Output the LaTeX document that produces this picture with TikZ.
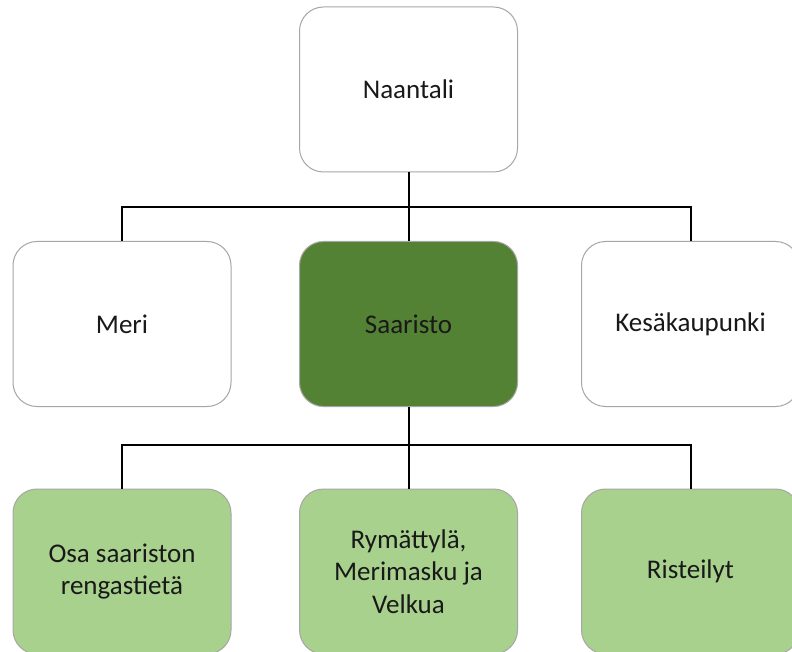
\documentclass[tikz,border=0pt]{standalone}
\usepackage{fontspec}
\setmainfont{Carlito}
\definecolor{boxline}{HTML}{A6A6A6}
\definecolor{darkgreen}{HTML}{548235}
\definecolor{lightgreen}{HTML}{A9D18E}
\begin{document}
\begin{tikzpicture}[x=1pt,y=-1pt,
  orgbox/.style={draw=boxline, line width=1pt, rounded corners=24pt,
    minimum width=218pt, minimum height=165pt, inner sep=0pt,
    align=center, text=black!90,
    font=\fontsize{27}{32.5}\selectfont},
  plainbox/.style={orgbox, fill=white},
  mainbox/.style={orgbox, fill=darkgreen},
  subbox/.style={orgbox, fill=lightgreen},
  link/.style={draw=black, line width=2pt}]
\useasboundingbox (0,0) rectangle (792,652);
\fill[white] (0,0) rectangle (792,652);

% Top level
\node[plainbox] (top) at (408.5,89.5) {Naantali};

% Second level
\node[plainbox] (meri) at (122,324) {Meri};
\node[mainbox]  (saar) at (408.5,324) {Saaristo};
\node[plainbox] (kesa) at (690.5,324) {Kesäkaupunki};

% Third level
\node[subbox] (osa) at (122,571.5) {Osa saariston\\rengastietä};
\node[subbox] (rym) at (408.5,571.5) {Rymättylä,\\Merimasku ja\\Velkua};
\node[subbox] (ris) at (690.5,571.5) {Risteilyt};

% Connectors
\coordinate (bus1) at (408.5,207);
\coordinate (bus2) at (408.5,445);
\draw[link] (top.south) -- (saar.north);
\draw[link] (meri.north) |- (bus1) -| (kesa.north);
\draw[link] (saar.south) -- (rym.north);
\draw[link] (osa.north) |- (bus2) -| (ris.north);
\end{tikzpicture}
\end{document}
